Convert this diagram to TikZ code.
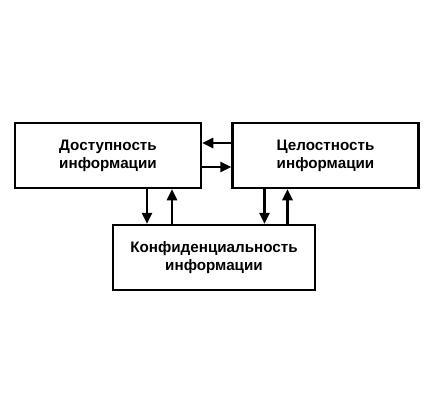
\documentclass[tikz,border=0pt]{standalone}
\usepackage{fontspec}
\setmainfont{Liberation Sans}
\usetikzlibrary{positioning, arrows.meta}

\begin{document}
\begin{tikzpicture}[
    x=1pt, y=-1pt,
    prop node/.style={
        draw=black, fill=white, rectangle, line width=2.5pt,
        minimum width=186pt, minimum height=65pt,
        font=\fontsize{15.2}{18}\selectfont\bfseries, align=center
    },
    link/.style={-{Triangle[length=11pt, width=10pt]}, line width=2.5pt}
]

% Рамка рисунка
\useasboundingbox (0,0) rectangle (439,402);

% ------------------------------------------------------------------------------
% 1. СВОЙСТВА ИНФОРМАЦИИ
% ------------------------------------------------------------------------------
\node[prop node] (dost) at (108,155.5) {Доступность\\информации};
\node[prop node, right=29pt of dost] (cel) {Целостность\\информации};
\node[prop node, minimum width=202pt] (konf) at (214,257.5) {Конфиденциальность\\информации};

% ------------------------------------------------------------------------------
% 2. СВЯЗИ (горизонтальные)
% ------------------------------------------------------------------------------
\draw[link] ([yshift=12.5pt]cel.west) -- ([yshift=12.5pt]dost.east);
\draw[link] ([yshift=-11.5pt]dost.east) -- ([yshift=-11.5pt]cel.west);

% ------------------------------------------------------------------------------
% 3. СВЯЗИ (вертикальные)
% ------------------------------------------------------------------------------
\draw[link] ([xshift=39pt]dost.south) -- ([xshift=39pt]dost.south |- konf.north);
\draw[link] ([xshift=64pt]dost.south |- konf.north) -- ([xshift=64pt]dost.south);
\draw[link] ([xshift=-61pt]cel.south) -- ([xshift=-61pt]cel.south |- konf.north);
\draw[link] ([xshift=-38pt]cel.south |- konf.north) -- ([xshift=-38pt]cel.south);

\end{tikzpicture}
\end{document}
